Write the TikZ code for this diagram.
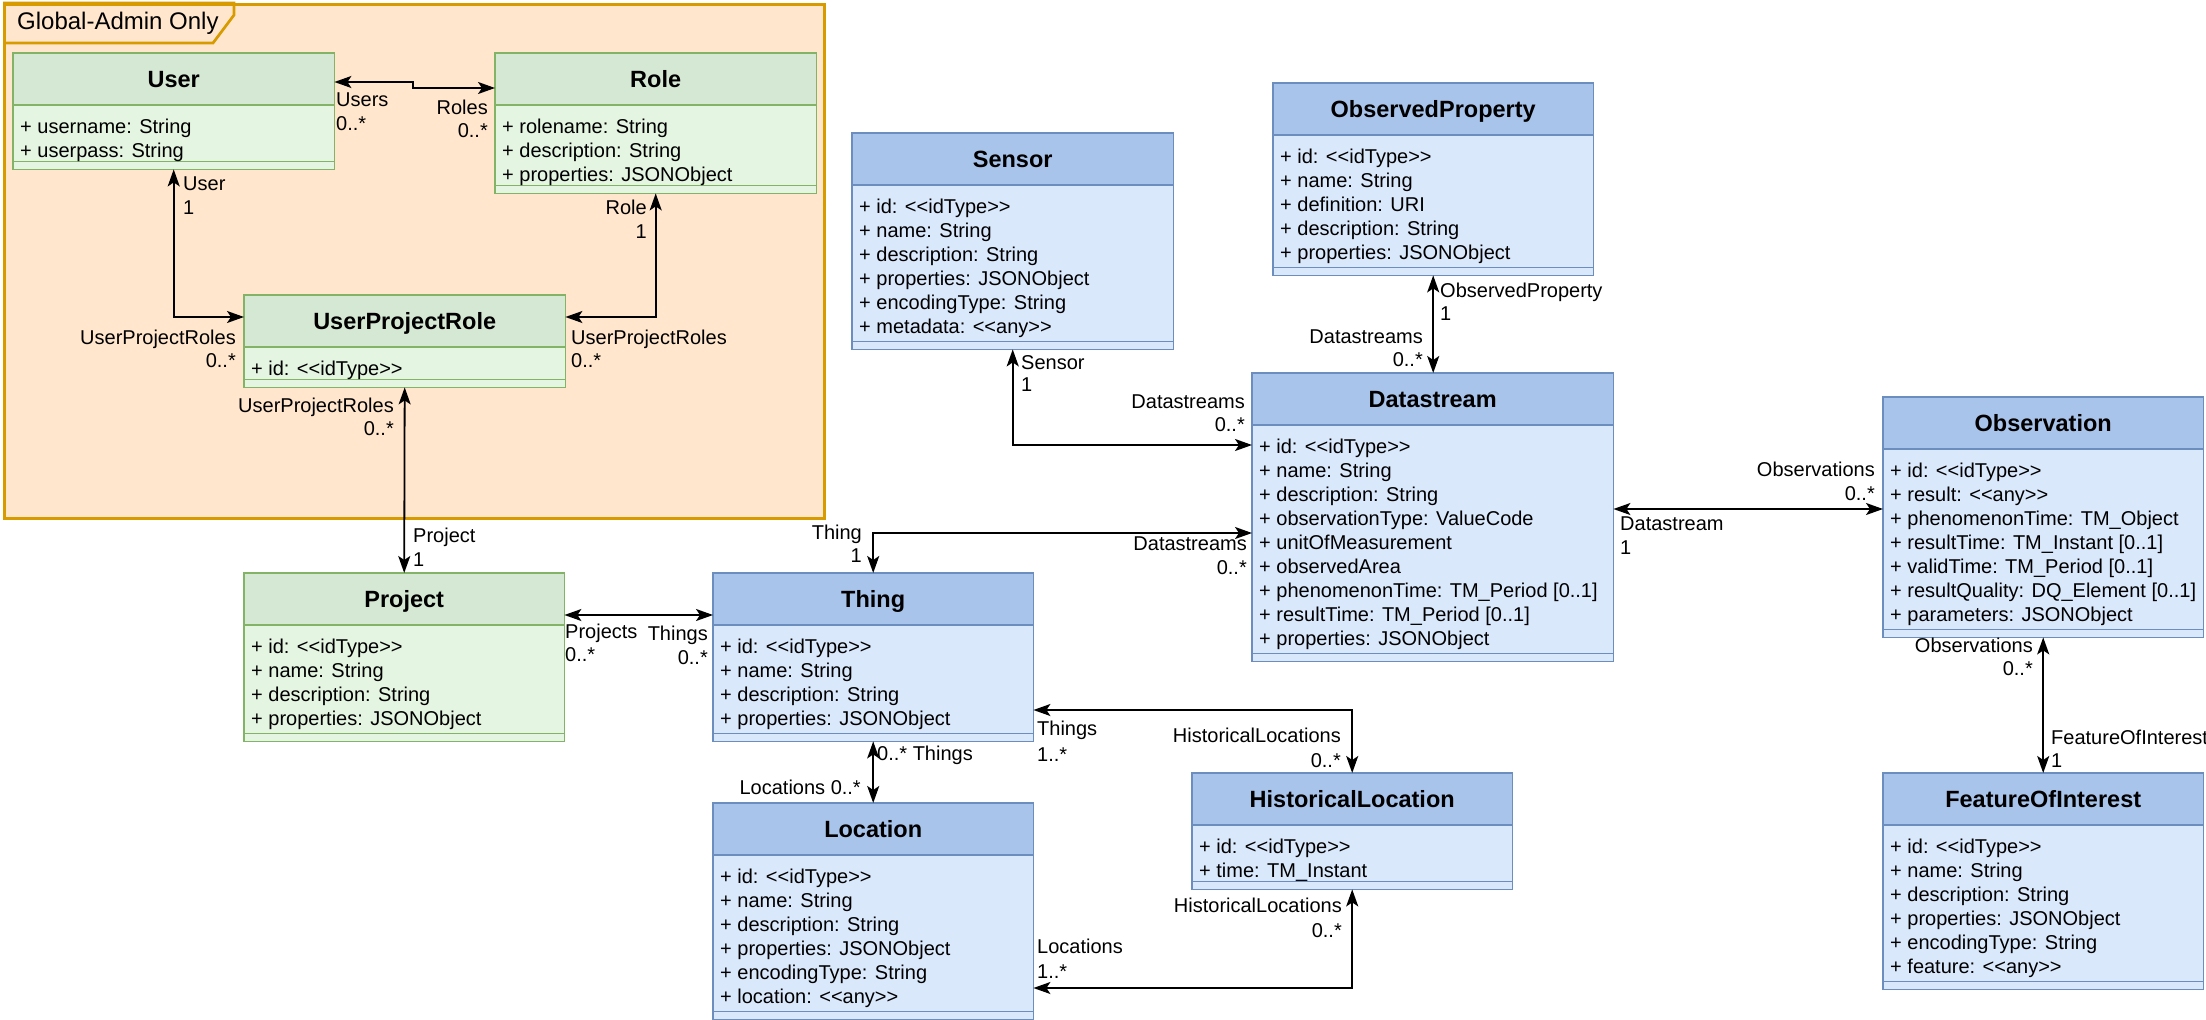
\documentclass[tikz,border=0pt]{standalone}
\usepackage{fontspec}
\setmainfont{Liberation Sans}
\usetikzlibrary{arrows.meta}

\definecolor{frameFill}{HTML}{FFE6CC}
\definecolor{frameLine}{HTML}{D79B00}
\definecolor{greenhead}{HTML}{D5E8D4}
\definecolor{greenbody}{HTML}{E4F5E1}
\definecolor{greenline}{HTML}{82B366}
\definecolor{bluehead}{HTML}{A9C4EB}
\definecolor{bluebody}{HTML}{DAE8FC}
\definecolor{blueline}{HTML}{6C8EBF}

% double angle brackets without the guillemet ligature
\newcommand\oAng{<\kern0pt<}
\newcommand\cAng{>\kern0pt>}

\tikzset{
  titlefont/.style={font=\fontsize{23.5}{28}\selectfont\bfseries, inner sep=0},
  attrfont/.style={font=\fontsize{20}{24}\selectfont, inner sep=0},
  lab/.style={font=\fontsize{20}{24}\selectfont, inner sep=0},
  assoc/.style={draw=black, line width=1.8pt,
    arrows={Stealth[length=17pt,width=12pt,inset=4pt]-Stealth[length=17pt,width=12pt,inset=4pt]}},
}

% #1 name, #2 colour scheme, #3 left, #4 top, #5 width, #6 number of attributes, #7 title, #8 attributes
\newcommand\umlclass[8]{%
  \pgfmathsetmacro\umlBoxH{72+24*#6-4*(#6<4)}
  \node[inner sep=0, minimum width=#5pt, minimum height=\umlBoxH pt, anchor=north west] (#1) at (#3,#4) {};
  \fill[#2body] (#1.north west) rectangle (#1.south east);
  \fill[#2head] (#1.north west) rectangle ([yshift=-52pt]#1.north east);
  \draw[#2line, line width=1.7pt] ([yshift=-52pt]#1.north west) -- ([yshift=-52pt]#1.north east);
  \draw[#2line, line width=1.7pt] ([yshift=8pt]#1.south west) -- ([yshift=8pt]#1.south east);
  \draw[#2line, line width=1.7pt] (#1.north west) rectangle (#1.south east);
  \node[titlefont, anchor=base] (#1-title) at ([yshift=-34.5pt]#1.north) {#7};
  \foreach \a [count=\i from 0] in {#8} {
    \node[attrfont, anchor=base west] (#1-\i) at ([xshift=7pt, yshift={-80pt-24pt*\i}]#1.north west) {\a};
  }
}

\begin{document}
\begin{tikzpicture}[x=1pt, y=-1pt]
\useasboundingbox (0,0) rectangle (2206,1020);
\fill[white] (0,0) rectangle (2206,1020);

% administration frame with its name tab
\node[inner sep=0, minimum width=820pt, minimum height=514pt, anchor=north west,
      fill=frameFill, draw=frameLine, line width=2.7pt] (admin) at (3,3) {};
\draw[frameLine, line width=2.7pt] (admin.north west) -- ++(231,0) -- ++(0,12) -- ++(-21,28) -- ++(-210,0);
\node[font=\fontsize{24}{28}\selectfont, inner sep=0, anchor=base west] (admin-name) at (17,29) {Global-Admin Only};

% classes
\umlclass{user}{green}{13}{53}{321}{2}{User}{{+ username: String},{+ userpass: String}}
\umlclass{role}{green}{495}{53}{321}{3}{Role}{{+ rolename: String},{+ description: String},{+ properties: JSONObject}}
\umlclass{upr}{green}{244}{295}{321}{1}{UserProjectRole}{{+ id: \oAng idType\cAng}}
\umlclass{project}{green}{244}{573}{320}{4}{Project}{{+ id: \oAng idType\cAng},{+ name: String},{+ description: String},{+ properties: JSONObject}}
\umlclass{thing}{blue}{713}{573}{320}{4}{Thing}{{+ id: \oAng idType\cAng},{+ name: String},{+ description: String},{+ properties: JSONObject}}
\umlclass{location}{blue}{713}{803}{320}{6}{Location}{{+ id: \oAng idType\cAng},{+ name: String},{+ description: String},{+ properties: JSONObject},{+ encodingType: String},{+ location: \oAng any\cAng}}
\umlclass{sensor}{blue}{852}{133}{321}{6}{Sensor}{{+ id: \oAng idType\cAng},{+ name: String},{+ description: String},{+ properties: JSONObject},{+ encodingType: String},{+ metadata: \oAng any\cAng}}
\umlclass{op}{blue}{1273}{83}{320}{5}{ObservedProperty}{{+ id: \oAng idType\cAng},{+ name: String},{+ definition: URI},{+ description: String},{+ properties: JSONObject}}
\umlclass{ds}{blue}{1252}{373}{361}{9}{Datastream}{{+ id: \oAng idType\cAng},{+ name: String},{+ description: String},{+ observationType: ValueCode},{+ unitOfMeasurement},{+ observedArea},{+ phenomenonTime: TM\_Period [0..1]},{+ resultTime: TM\_Period [0..1]},{+ properties: JSONObject}}
\umlclass{obs}{blue}{1883}{397}{320}{7}{Observation}{{+ id: \oAng idType\cAng},{+ result: \oAng any\cAng},{+ phenomenonTime: TM\_Object},{+ resultTime: TM\_Instant [0..1]},{+ validTime: TM\_Period [0..1]},{+ resultQuality: DQ\_Element [0..1]},{+ parameters: JSONObject}}
\umlclass{foi}{blue}{1883}{773}{320}{6}{FeatureOfInterest}{{+ id: \oAng idType\cAng},{+ name: String},{+ description: String},{+ properties: JSONObject},{+ encodingType: String},{+ feature: \oAng any\cAng}}
\umlclass{hl}{blue}{1192}{773}{320}{2}{HistoricalLocation}{{+ id: \oAng idType\cAng},{+ time: TM\_Instant}}

% associations
\coordinate (ur-bend) at (413,85);
\draw[assoc] ([yshift=-29pt]user.north east) -| (ur-bend) |- ([yshift=-35pt]role.north west);
\draw[assoc] (user.south) |- ([yshift=-22pt]upr.north west);
\draw[assoc] (role.south) |- ([yshift=-22pt]upr.north east);
\draw[assoc] (upr.south) -- (project.north);
\draw[assoc] ([yshift=-42pt]project.north east) -- ([yshift=-42pt]thing.north west);
\draw[assoc] (thing.north) |- ([yshift=-160pt]ds.north west);
\draw[assoc] (sensor.south) |- ([yshift=-72pt]ds.north west);
\draw[assoc] (op.south) -- (op.south |- ds.north);
\draw[assoc] ([yshift=-136pt]ds.north east) -- ([yshift=-112pt]obs.north west);
\draw[assoc] (obs.south) -- (foi.north);
\draw[assoc] (thing.south) -- (location.north);
\draw[assoc] ([yshift=-137pt]thing.north east) -| (hl.north);
\draw[assoc] (hl.south) |- ([yshift=-185pt]location.north east);

% role names and multiplicities
\node[lab, anchor=base west] (l-users) at (336,106) {Users};
\node[lab, anchor=base west] (l-users-m) at (336,130) {0..*};
\node[lab, anchor=base east] (l-roles) at (488,114) {Roles};
\node[lab, anchor=base east] (l-roles-m) at (488,137) {0..*};
\node[lab, anchor=base west] (l-user) at (183,190) {User};
\node[lab, anchor=base west] (l-user-m) at (183,214) {1};
\node[lab, anchor=base east] (l-upr1) at (236,344) {UserProjectRoles};
\node[lab, anchor=base east] (l-upr1-m) at (236,367) {0..*};
\node[lab, anchor=base east] (l-role) at (647,214) {Role};
\node[lab, anchor=base east] (l-role-m) at (647,238) {1};
\node[lab, anchor=base west] (l-upr2) at (571,344) {UserProjectRoles};
\node[lab, anchor=base west] (l-upr2-m) at (571,367) {0..*};
\node[lab, anchor=base east] (l-upr3) at (394,412) {UserProjectRoles};
\node[lab, anchor=base east] (l-upr3-m) at (394,435) {0..*};
\node[lab, anchor=base west] (l-project) at (413,542) {Project};
\node[lab, anchor=base west] (l-project-m) at (413,566) {1};
\node[lab, anchor=base west] (l-projects) at (565,638) {Projects};
\node[lab, anchor=base west] (l-projects-m) at (565,661) {0..*};
\node[lab, anchor=base east] (l-things1) at (708,640) {Things};
\node[lab, anchor=base east] (l-things1-m) at (708,664) {0..*};
\node[lab, anchor=base east] (l-thing) at (862,539) {Thing};
\node[lab, anchor=base east] (l-thing-m) at (862,562) {1};
\node[lab, anchor=base east] (l-ds1) at (1247,550) {Datastreams};
\node[lab, anchor=base east] (l-ds1-m) at (1247,574) {0..*};
\node[lab, anchor=base west] (l-sensor) at (1021,369) {Sensor};
\node[lab, anchor=base west] (l-sensor-m) at (1021,391) {1};
\node[lab, anchor=base east] (l-ds2) at (1245,408) {Datastreams};
\node[lab, anchor=base east] (l-ds2-m) at (1245,431) {0..*};
\node[lab, anchor=base west] (l-op) at (1440,297) {ObservedProperty};
\node[lab, anchor=base west] (l-op-m) at (1440,320) {1};
\node[lab, anchor=base east] (l-ds3) at (1423,343) {Datastreams};
\node[lab, anchor=base east] (l-ds3-m) at (1423,366) {0..*};
\node[lab, anchor=base west] (l-ds4) at (1620,530) {Datastream};
\node[lab, anchor=base west] (l-ds4-m) at (1620,554) {1};
\node[lab, anchor=base east] (l-obs1) at (1875,476) {Observations};
\node[lab, anchor=base east] (l-obs1-m) at (1875,500) {0..*};
\node[lab, anchor=base east] (l-obs2) at (2033,652) {Observations};
\node[lab, anchor=base east] (l-obs2-m) at (2033,675) {0..*};
\node[lab, anchor=base west] (l-foi) at (2051,744) {FeatureOfInterest};
\node[lab, anchor=base west] (l-foi-m) at (2051,767) {1};
\node[lab, anchor=base west] (l-things2) at (877,760) {0..* Things};
\node[lab, anchor=base east] (l-locs1) at (861,794) {Locations 0..*};
\node[lab, anchor=base west] (l-things3) at (1037,735) {Things};
\node[lab, anchor=base west] (l-things3-m) at (1037,761) {1..*};
\node[lab, anchor=base east] (l-hl1) at (1341,742) {HistoricalLocations};
\node[lab, anchor=base east] (l-hl1-m) at (1341,767) {0..*};
\node[lab, anchor=base east] (l-hl2) at (1342,912) {HistoricalLocations};
\node[lab, anchor=base east] (l-hl2-m) at (1342,937) {0..*};
\node[lab, anchor=base west] (l-locs2) at (1037,953) {Locations};
\node[lab, anchor=base west] (l-locs2-m) at (1037,978) {1..*};
\end{tikzpicture}
\end{document}
